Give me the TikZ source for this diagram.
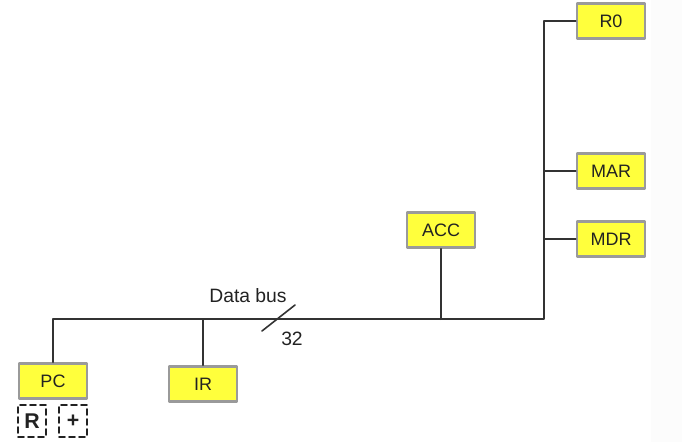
\documentclass[tikz,border=0pt]{standalone}
\usepackage{fontspec}
\setmainfont{Liberation Sans}
\usepackage{tikz}
\usetikzlibrary{arrows.meta, calc}

\definecolor{regfill}{HTML}{FFFF3C}
\definecolor{regedge}{HTML}{9A9A9A}
\definecolor{wire}{HTML}{333333}
\definecolor{ink}{HTML}{222222}

\begin{document}
\begin{tikzpicture}[x=0.75pt, y=-0.75pt, >=Stealth, line cap=round, line join=round,
    reg/.style={draw=regedge, line width=2.2pt, fill=regfill, text=ink,
      minimum width=51pt, minimum height=26pt, inner sep=0pt, font=\fontsize{13.5}{15}\selectfont},
    tag/.style={draw=ink, dashed, dash pattern=on 4.5pt off 3pt, line width=1.3pt, text=ink,
      minimum width=21pt, minimum height=24pt, inner sep=0pt, font=\fontsize{16}{18}\selectfont\bfseries},
    wire/.style={draw=wire, line width=1.5pt}]
    \useasboundingbox (0,0) rectangle (682,442);
    \fill[black!1] (651,0) rectangle (682,442);

    % registers
    \node[reg] (pc)  at (53,381)  {PC};
    \node[reg] (ir)  at (203,384) {IR};
    \node[reg] (acc) at (441,230) {ACC};
    \node[reg] (r0)  at (611,21)  {R0};
    \node[reg] (mar) at (611,171) {MAR};
    \node[reg] (mdr) at (611,239) {MDR};

    % small tags under PC
    \node[tag] (rtag)   at (32,421) {R};
    \node[tag] (inctag) at (73,421) {+};

    % data bus
    \coordinate (busR) at (544,319);
    \draw[wire] (pc.north) |- (busR) |- (r0.west);
    \draw[wire] (ir.north) -- (ir.north |- busR);
    \draw[wire] (acc.south) -- (acc.south |- busR);
    \draw[wire] (mar.west) -- (mar.west -| busR);
    \draw[wire] (mdr.west) -- (mdr.west -| busR);

    % bus width mark
    \coordinate (slash) at (278,318);
    \draw[wire, line width=1.2pt] (slash) ++(-16,13) -- ++(33,-26);
    \node[text=ink, font=\fontsize{14.5}{16}\selectfont] (buslabel) at (248,296) {Data bus};
    \node[text=ink, font=\fontsize{14.5}{16}\selectfont] (width) at (292,339) {32};
\end{tikzpicture}
\end{document}
